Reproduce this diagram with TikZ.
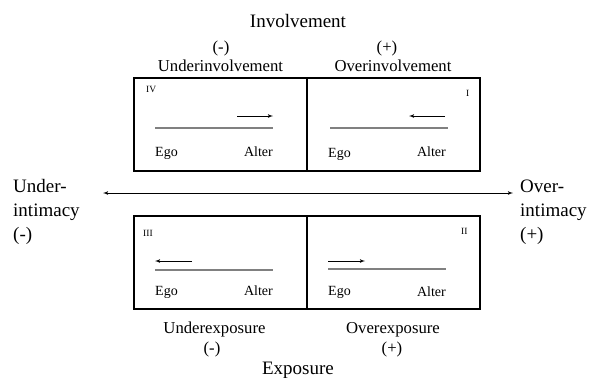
\documentclass[tikz,border=0pt]{standalone}
\usepackage{fontspec}
\setmainfont{Liberation Serif}
\usetikzlibrary{calc, arrows, positioning}

\begin{document}
\begin{tikzpicture}
    [
        x=1pt, y=-1pt, >=latex',
        box/.style={draw, line width=1.1pt, minimum width=173pt, minimum height=93pt, inner sep=0pt},
        big/.style={font=\fontsize{19}{24}\selectfont, inner sep=0pt},
        small/.style={font=\fontsize{16.7}{20}\selectfont, inner sep=0pt},
        tag/.style={font=\fontsize{14}{17}\selectfont, inner sep=0pt},
        num/.style={font=\fontsize{9.5}{11}\selectfont, inner sep=0pt}
    ]
    \tikzstyle{axis} = [draw, <->, line width=0.8pt]
    \tikzstyle{track} = [draw, gray, line width=1.3pt]
    \tikzstyle{move} = [draw, ->, line width=0.8pt]

    \useasboundingbox (0,0) rectangle (598,378);

    % quadrants
    \node[box] (q4) at (220.5,124.5) {};
    \node[box] (q1) at (393.5,124.5) {};
    \node[box] (q3) at (220.5,262.5) {};
    \node[box] (q2) at (393.5,262.5) {};

    % top labels
    \node[big, anchor=base] (inv) at (298,27) {Involvement};
    \node[small, anchor=base] (inv_min) at (221,52) {(-)};
    \node[small, anchor=base] (inv_pls) at (387,52) {(+)};
    \node[small, anchor=base] (under_inv) at (220.5,71) {Underinvolvement};
    \node[small, anchor=base] (over_inv) at (393,71) {Overinvolvement};

    % bottom labels
    \node[small, anchor=base] (under_exp) at (214.5,333) {Underexposure};
    \node[small, anchor=base] (over_exp) at (393,333) {Overexposure};
    \node[small, anchor=base] (exp_min) at (212,353) {(-)};
    \node[small, anchor=base] (exp_pls) at (392,353) {(+)};
    \node[big, anchor=base] (exp) at (298,374) {Exposure};

    % intimacy axis
    \node[big, anchor=base west, align=left] (under) at (13,240) {Under-\\intimacy\\(-)};
    \node[big, anchor=base west, align=left] (over) at (520,240) {Over-\\intimacy\\(+)};
    \coordinate (ax_l) at (103,193);
    \coordinate (ax_r) at (513,193);
    \path[axis] (ax_l) -- (ax_r);

    % IV
    \node[num, anchor=base west] (n4) at (146,92) {IV};
    \coordinate (t4a) at (155,128); \coordinate (t4b) at (273,128);
    \coordinate (m4a) at (237,116); \coordinate (m4b) at (273,116);
    \path[track] (t4a) -- (t4b);
    \path[move] (m4a) -- (m4b);
    \node[tag, anchor=base west] (ego4) at (155,156) {Ego};
    \node[tag, anchor=base east] (alt4) at (273,156) {Alter};

    % I
    \node[num, anchor=base west] (n1) at (466,96) {I};
    \coordinate (t1a) at (330,128); \coordinate (t1b) at (448,128);
    \coordinate (m1a) at (445,116); \coordinate (m1b) at (409,116);
    \path[track] (t1a) -- (t1b);
    \path[move] (m1a) -- (m1b);
    \node[tag, anchor=base west] (ego1) at (328,157) {Ego};
    \node[tag, anchor=base east] (alt1) at (446,156) {Alter};

    % III
    \node[num, anchor=base west] (n3) at (143,236) {III};
    \coordinate (t3a) at (155,270); \coordinate (t3b) at (273,270);
    \coordinate (m3a) at (192,261); \coordinate (m3b) at (155,261);
    \path[track] (t3a) -- (t3b);
    \path[move] (m3a) -- (m3b);
    \node[tag, anchor=base west] (ego3) at (155,295) {Ego};
    \node[tag, anchor=base east] (alt3) at (273,295) {Alter};

    % II
    \node[num, anchor=base west] (n2) at (461,234) {II};
    \coordinate (t2a) at (328,269); \coordinate (t2b) at (446,269);
    \coordinate (m2a) at (328,261); \coordinate (m2b) at (365,261);
    \path[track] (t2a) -- (t2b);
    \path[move] (m2a) -- (m2b);
    \node[tag, anchor=base west] (ego2) at (328,295) {Ego};
    \node[tag, anchor=base east] (alt2) at (446,296) {Alter};
\end{tikzpicture}
\end{document}
